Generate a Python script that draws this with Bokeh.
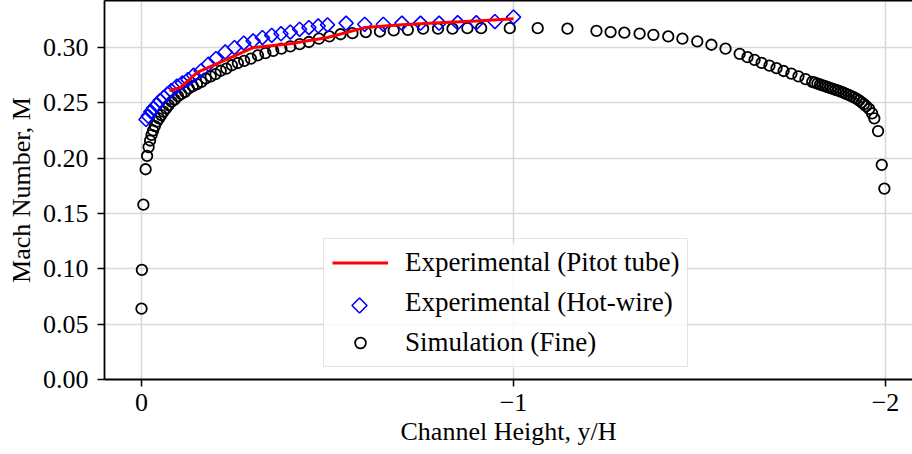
import numpy as np
from bokeh.plotting import figure
from bokeh.models import (Range1d, FixedTicker, PrintfTickFormatter, Legend,
                          LegendItem, LinearAxis, PolyAnnotation, BoxAnnotation)
from bokeh.embed import file_html
from bokeh.resources import INLINE

# ---------------- data ----------------
sim_x = [0.000, -0.001, -0.005, -0.011, -0.015, -0.019, -0.023, -0.027, -0.031,
         -0.036, -0.041, -0.047, -0.053, -0.059, -0.066, -0.073, -0.081, -0.089,
         -0.098, -0.107, -0.117, -0.127, -0.138, -0.149, -0.161, -0.173, -0.186,
         -0.199, -0.213, -0.228, -0.243, -0.259, -0.276, -0.294, -0.313, -0.333,
         -0.354, -0.376, -0.400, -0.425, -0.450, -0.477, -0.505, -0.535, -0.567,
         -0.603, -0.641, -0.678, -0.716, -0.757, -0.797, -0.836, -0.876, -0.913,
         -0.990, -1.065, -1.145, -1.223, -1.261, -1.298, -1.339, -1.376, -1.416,
         -1.454, -1.494, -1.532, -1.570, -1.608, -1.629, -1.648, -1.667, -1.688,
         -1.707, -1.726, -1.747, -1.766, -1.785, -1.803, -1.810, -1.817, -1.824,
         -1.831, -1.838, -1.845, -1.852, -1.859, -1.866, -1.873, -1.880, -1.887,
         -1.894, -1.901, -1.908, -1.915, -1.922, -1.929, -1.936, -1.942, -1.948,
         -1.956, -1.964, -1.970, -1.980, -1.990, -1.997]
sim_m = [0.064, 0.099, 0.158, 0.190, 0.202, 0.210, 0.216, 0.221, 0.225,
         0.229, 0.233, 0.236, 0.239, 0.242, 0.245, 0.248, 0.251, 0.253,
         0.256, 0.258, 0.260, 0.263, 0.265, 0.267, 0.269, 0.272, 0.274,
         0.276, 0.279, 0.281, 0.284, 0.286, 0.288, 0.290, 0.293, 0.295,
         0.297, 0.299, 0.301, 0.303, 0.305, 0.308, 0.310, 0.312, 0.313,
         0.314, 0.3145, 0.3155, 0.316, 0.317, 0.317, 0.317, 0.3175, 0.3175,
         0.3175, 0.3175, 0.317, 0.315, 0.314, 0.3134, 0.3125, 0.3115, 0.310,
         0.308, 0.3055, 0.3025, 0.299, 0.2943, 0.2913, 0.2888, 0.2861, 0.2836,
         0.2813, 0.2788, 0.2764, 0.274, 0.2715, 0.269, 0.2682, 0.2674, 0.2666,
         0.2658, 0.265, 0.2642, 0.2634, 0.2626, 0.2618, 0.261, 0.2601, 0.2592,
         0.2582, 0.2572, 0.2561, 0.255, 0.2537, 0.2522, 0.2505, 0.2488, 0.247,
         0.2445, 0.2405, 0.236, 0.2245, 0.194, 0.1725]

hw_x = [-0.012, -0.018, -0.025, -0.032, -0.040, -0.050, -0.060, -0.070, -0.080,
        -0.095, -0.110, -0.125, -0.140, -0.160, -0.180, -0.200, -0.225, -0.250,
        -0.275, -0.300, -0.325, -0.350, -0.375, -0.400, -0.425, -0.450, -0.475,
        -0.500, -0.550, -0.600, -0.650, -0.700, -0.750, -0.800, -0.850, -0.900,
        -0.950, -1.000]
hw_m = [0.235, 0.238, 0.242, 0.245, 0.248, 0.252, 0.255, 0.258, 0.261,
        0.265, 0.268, 0.271, 0.275, 0.279, 0.285, 0.290, 0.296, 0.300,
        0.304, 0.306, 0.309, 0.311, 0.3125, 0.314, 0.3165, 0.318, 0.3195,
        0.3205, 0.322, 0.321, 0.321, 0.322, 0.322, 0.322, 0.3225, 0.3225,
        0.3235, 0.3275]

pitot_x = [-0.075, -0.105, -0.15, -0.20, -0.30, -0.40, -0.50, -0.60, -0.70,
           -0.80, -0.90, -1.00]
pitot_m = [0.261, 0.264, 0.2775, 0.285, 0.300, 0.3035, 0.309, 0.318, 0.3205,
           0.3225, 0.324, 0.326]

x_ticks = [0, -1, -2]
x_tick_labels = ["0", "\u22121", "\u22122"]
y_ticks = [0.00, 0.05, 0.10, 0.15, 0.20, 0.25, 0.30]

labels = ["Experimental (Pitot tube)", "Experimental (Hot-wire)", "Simulation (Fine)"]
x_label = "Channel Height, y/H"
y_label = "Mach Number, M"

FONT = "Liberation Serif"
FS = "26px"

# ---------------- figure ----------------
p = figure(width=912, height=454,
           x_range=Range1d(0.0995, -2.0726), y_range=Range1d(0, 0.3425),
           output_backend="svg", toolbar_location=None,
           min_border_left=104, min_border_right=0, min_border_top=0,
           min_border_bottom=75)
p.outline_line_color = None
p.background_fill_color = "white"
p.border_fill_color = "white"

for ax in (p.xaxis[0], p.yaxis[0]):
    ax.axis_line_color = "black"
    ax.axis_line_width = 1.8
    ax.major_tick_line_color = "black"
    ax.major_tick_line_width = 1.5
    ax.major_tick_out = 7
    ax.major_tick_in = 0
    ax.minor_tick_line_color = None
    ax.major_label_text_font = FONT
    ax.major_label_text_font_size = FS
    ax.major_label_text_color = "black"
    ax.axis_label_text_font = FONT
    ax.axis_label_text_font_size = FS
    ax.axis_label_text_font_style = "normal"
    ax.axis_label_text_color = "black"

p.xaxis.ticker = FixedTicker(ticks=x_ticks)
p.xaxis.major_label_overrides = dict(zip(x_ticks, x_tick_labels))
p.xaxis.major_label_standoff = 7
p.xaxis.axis_label = x_label
p.xaxis.axis_label_standoff = 3

p.yaxis.ticker = FixedTicker(ticks=y_ticks)
p.yaxis.formatter = PrintfTickFormatter(format="%.2f")
p.yaxis.major_label_standoff = 9
p.yaxis.axis_label = y_label
p.yaxis.axis_label_standoff = 4

top_axis = LinearAxis(ticker=FixedTicker(ticks=[]), major_tick_out=0, major_tick_in=0,
                      minor_tick_out=0, minor_tick_in=0,
                      major_label_text_font_size="0px", major_label_standoff=0,
                      axis_label_standoff=0, axis_line_width=1.8,
                      axis_line_color="black")
p.add_layout(top_axis, "above")

p.xgrid.ticker = FixedTicker(ticks=x_ticks)
p.ygrid.ticker = FixedTicker(ticks=y_ticks)
for g in (p.xgrid[0], p.ygrid[0]):
    g.grid_line_color = "#d9d9d9"
    g.grid_line_width = 1.6

# ---------------- legend geometry ----------------
LEG_X, LEG_Y, PAD, GW, GH, LH, SP = 219, 12, 8, 56, 27, 30, 9
LEG_W = 364
leg_h = 2 * PAD + 3 * LH + 2 * SP

# translucent legend backdrop (dims the grid lines behind the legend)
p.add_layout(BoxAnnotation(left=LEG_X, right=LEG_X + LEG_W, bottom=LEG_Y,
                           top=LEG_Y + leg_h, left_units="screen",
                           right_units="screen", bottom_units="screen",
                           top_units="screen", fill_color="white", fill_alpha=0.8,
                           line_color=None, level="underlay"))

sim = p.scatter(sim_x, sim_m, marker="circle", size=10.5, fill_color=None,
                line_color="black", line_width=1.8)
hw = p.scatter(hw_x, hw_m, marker="square", angle=np.pi / 4, size=10,
               fill_color=None, line_color="blue", line_width=1.6)
pit = p.line(pitot_x, pitot_m, line_color="red", line_width=3)

legend = Legend(items=[LegendItem(label=labels[0], renderers=[pit]),
                       LegendItem(label=labels[1], renderers=[]),
                       LegendItem(label=labels[2], renderers=[sim])],
                location=(LEG_X, LEG_Y))
legend.border_line_color = "#cccccc"
legend.border_line_width = 1.5
legend.background_fill_alpha = 0.0
legend.padding = PAD
legend.spacing = SP
legend.margin = 0
legend.glyph_width = GW
legend.glyph_height = GH
legend.label_height = LH
legend.label_standoff = 17
legend.label_text_font = FONT
legend.label_text_font_size = "27px"
legend.label_text_color = "black"
p.add_layout(legend, "center")

# legend key for the hot-wire series: a diamond (square rotated 45 degrees)
kx = LEG_X + PAD + GW / 2
ky = LEG_Y + leg_h - PAD - LH / 2 - (LH + SP)
r = 7.5
p.add_layout(PolyAnnotation(xs=[kx, kx + r, kx, kx - r], ys=[ky + r, ky, ky - r, ky],
                            xs_units="screen", ys_units="screen",
                            fill_color=None, fill_alpha=0, line_color="blue",
                            line_alpha=1.0, line_width=1.6, level="overlay"))

open("out.html", "w").write(file_html(p, INLINE))
